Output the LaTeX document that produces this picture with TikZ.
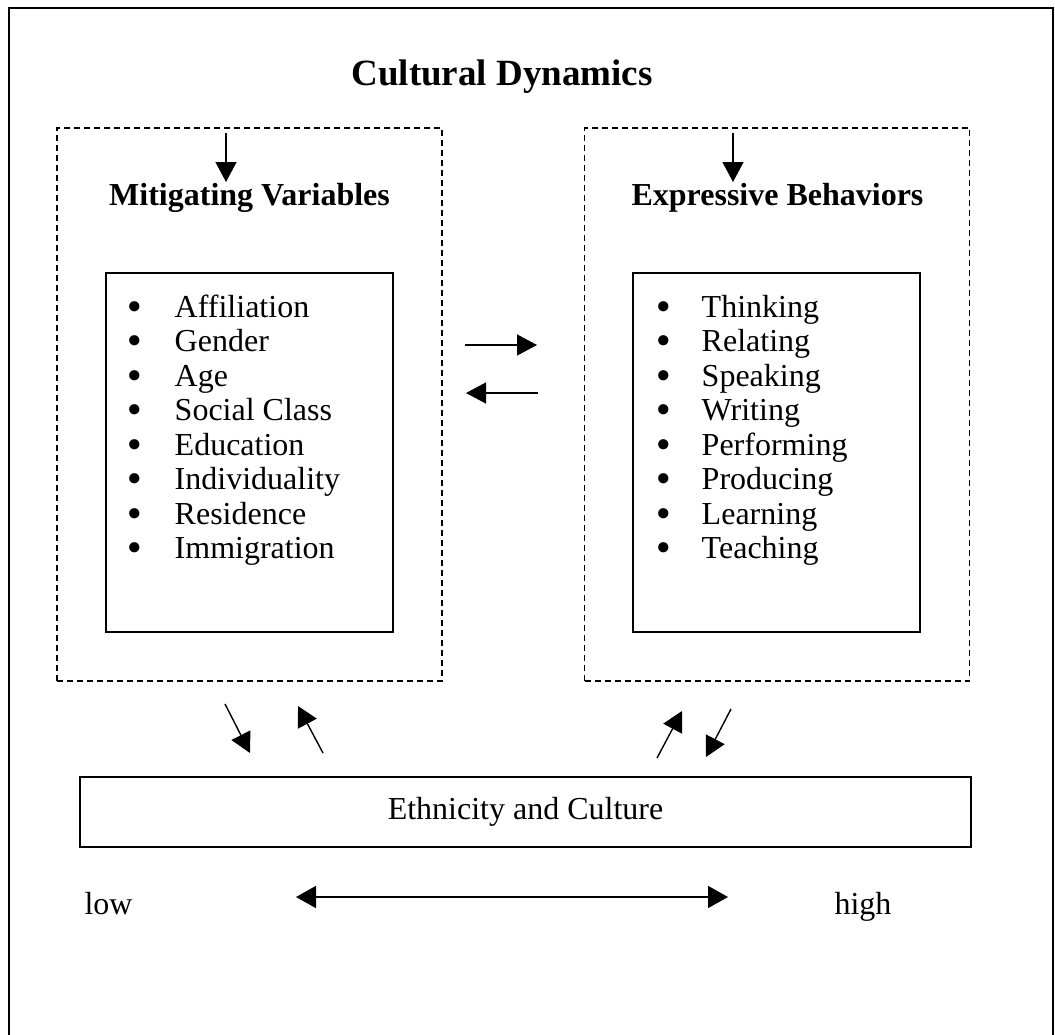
\documentclass[tikz,border=0pt]{standalone}
\usepackage{fontspec}
\setmainfont{Liberation Serif}
\newfontfamily\dotfont{DejaVu Sans}
\usetikzlibrary{arrows.meta}

\newcommand\itemdot{{\dotfont\bfseries\fontsize{29}{29}\selectfont •}}

\begin{document}
\begin{tikzpicture}[x=1pt,y=-1pt,
        head/.style={font=\fontsize{32}{38}\selectfont\bfseries},
        txt/.style={font=\fontsize{32}{38}\selectfont},
        dashbox/.style={draw,line width=1.4pt,dash pattern=on 6pt off 4pt,minimum width=385,minimum height=553},
        listbox/.style={draw,line width=1.4pt,minimum width=287,minimum height=359},
        list/.style={inner sep=0pt,column sep=31pt,row sep=2.5pt,
            nodes={txt,inner sep=0pt,text height=24pt,text depth=8pt,anchor=base west}},
        dotcell/.style={minimum width=16pt},
        arr/.style={line width=1.4pt,-{Triangle[length=20pt,width=21pt]}},
        dblarr/.style={line width=1.6pt,{Triangle[length=20pt,width=22pt]}-{Triangle[length=20pt,width=22pt]}}
    ]
    \useasboundingbox (0,0) rectangle (1055,1034);
    \clip (0,0) rectangle (1055,1034);
    \draw[line width=2pt] (9,8) rectangle (1053,1060);

    \node[font=\fontsize{37}{44}\selectfont\bfseries,anchor=base] (title) at (502,85) {Cultural Dynamics};

    % mitigating variables
    \node[dashbox] (mv) at (249.5,404.5) {};
    \node[head,anchor=base] (mvhead) at (249.5,205) {Mitigating Variables};
    \node[listbox] (mvbox) at (249.5,452.5) {};
    \matrix [list] (mvlist) at (125,293) [anchor=north west]
    {
        \node[dotcell]{\itemdot}; & \node{Affiliation}; \\
        \node[dotcell]{\itemdot}; & \node{Gender}; \\
        \node[dotcell]{\itemdot}; & \node{Age}; \\
        \node[dotcell]{\itemdot}; & \node{Social Class}; \\
        \node[dotcell]{\itemdot}; & \node{Education}; \\
        \node[dotcell]{\itemdot}; & \node{Individuality}; \\
        \node[dotcell]{\itemdot}; & \node{Residence}; \\
        \node[dotcell]{\itemdot}; & \node{Immigration}; \\
    };

    % expressive behaviors
    \node[dashbox] (eb) at (777,404.5) {};
    \node[head,anchor=base] (ebhead) at (777.5,205) {Expressive Behaviors};
    \node[listbox] (ebbox) at (776.5,452.5) {};
    \matrix [list,column sep=29pt] (eblist) at (654,293) [anchor=north west]
    {
        \node[dotcell]{\itemdot}; & \node{Thinking}; \\
        \node[dotcell]{\itemdot}; & \node{Relating}; \\
        \node[dotcell]{\itemdot}; & \node{Speaking}; \\
        \node[dotcell]{\itemdot}; & \node{Writing}; \\
        \node[dotcell]{\itemdot}; & \node{Performing}; \\
        \node[dotcell]{\itemdot}; & \node{Producing}; \\
        \node[dotcell]{\itemdot}; & \node{Learning}; \\
        \node[dotcell]{\itemdot}; & \node{Teaching}; \\
    };

    \node[txt,draw,line width=1.4pt,minimum width=891,minimum height=70] (eth) at (525.5,812) {Ethnicity and Culture};
    \node[txt,anchor=base west] (low) at (81,914) {low};
    \node[txt,anchor=base west] (high) at (831,914) {high};

    % arrow ends
    \coordinate (mvin) at (226,133);
    \coordinate (mvtip) at (226,182);
    \coordinate (ebin) at (733,133);
    \coordinate (ebtip) at (733,182);
    \coordinate (toeb1) at (465,345);
    \coordinate (toeb2) at (537,345);
    \coordinate (tomv1) at (538,393);
    \coordinate (tomv2) at (466,393);
    \coordinate (mvdn1) at (225,704);
    \coordinate (mvdn2) at (250,753);
    \coordinate (mvup1) at (323,753);
    \coordinate (mvup2) at (298,706);
    \coordinate (ebup1) at (657,758);
    \coordinate (ebup2) at (682,711);
    \coordinate (ebdn1) at (731,709);
    \coordinate (ebdn2) at (706,757);
    \coordinate (lowend) at (296,897);
    \coordinate (highend) at (728,897);

    \draw[arr] (mvin) -- (mvtip);
    \draw[arr] (ebin) -- (ebtip);
    \draw[arr] (toeb1) -- (toeb2);
    \draw[arr] (tomv1) -- (tomv2);
    \draw[arr] (mvdn1) -- (mvdn2);
    \draw[arr] (mvup1) -- (mvup2);
    \draw[arr] (ebup1) -- (ebup2);
    \draw[arr] (ebdn1) -- (ebdn2);
    \draw[dblarr] (lowend) -- (highend);
\end{tikzpicture}
\end{document}
